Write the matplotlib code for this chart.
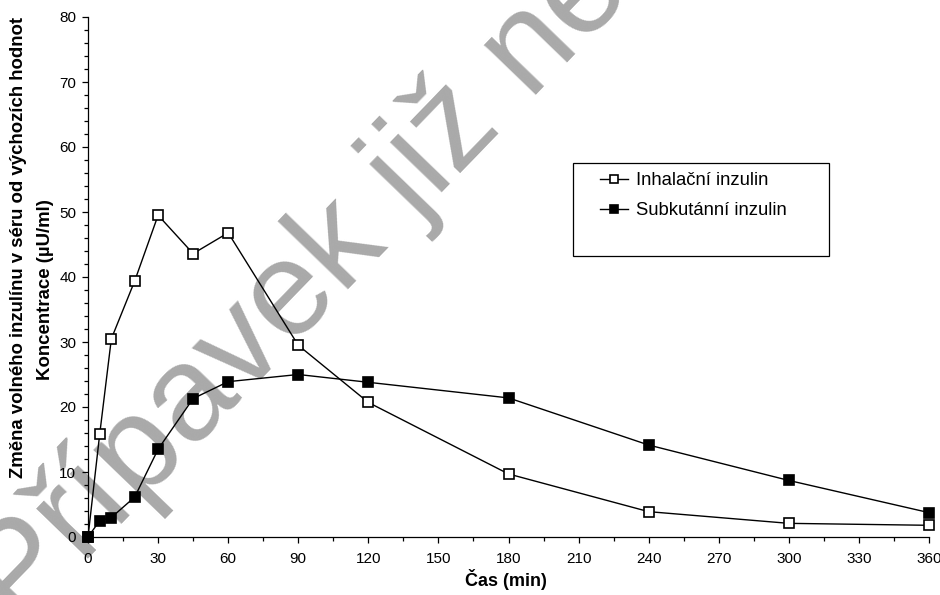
import matplotlib
matplotlib.use("Agg")
import matplotlib.pyplot as plt
from matplotlib.ticker import MultipleLocator
from matplotlib.patches import Rectangle

plt.rcParams['font.family'] = ['Liberation Sans', 'DejaVu Sans']

# Sampling times (min)
cas_min = [0, 5, 10, 20, 30, 45, 60, 90, 120, 180, 240, 300, 360]
# Change of free serum insulin from baseline (µU/ml)
inhalacni = [0, 15.8, 30.5, 39.4, 49.5, 43.6, 46.8, 29.5, 20.7, 9.7, 3.9, 2.1, 1.8]
subkutanni = [0, 2.5, 3.0, 6.15, 13.5, 21.3, 23.9, 25.0, 23.8, 21.4, 14.15, 8.7, 3.75]

serie_nazvy = ["Inhalační inzulin", "Subkutánní inzulin"]
osa_x = "Čas (min)"
osa_y_1 = "Změna volného inzulínu v séru od výchozích hodnot"
osa_y_2 = "Koncentrace (µU/ml)"
vodoznak = "Přípavek již není registrován"

W, H = 940, 595
fig = plt.figure(figsize=(W / 100, H / 100), dpi=100)
ax = fig.add_axes([88 / W, 1 - 537 / H, (929 - 88) / W, (537 - 17) / H])
ax.patch.set_alpha(0)

# watermark behind the plot
fig.text(20 / W, 1 - 630 / H, vodoznak, rotation=46, rotation_mode='anchor',
         ha='left', va='baseline', fontsize=97, color='#a9a9a9', zorder=-5)

ax.plot(cas_min, inhalacni, '-s', color='black', lw=1.0, ms=6.8,
        mfc='white', mec='black', mew=1.2, clip_on=False, zorder=3,
        label=serie_nazvy[0])
ax.plot(cas_min, subkutanni, '-s', color='black', lw=1.0, ms=6.8,
        mfc='black', mec='black', mew=1.2, clip_on=False, zorder=3,
        label=serie_nazvy[1])

ax.set_xlim(0, 360)
ax.set_ylim(0, 80)
ax.xaxis.set_major_locator(MultipleLocator(30))
ax.xaxis.set_minor_locator(MultipleLocator(15))
ax.yaxis.set_major_locator(MultipleLocator(10))
ax.yaxis.set_minor_locator(MultipleLocator(2))
ax.tick_params(which='major', direction='out', length=4.5, width=0.9,
               labelsize=11, pad=6)
ax.tick_params(which='minor', direction='out', length=3, width=0.9)
ax.tick_params(axis='y', which='major', pad=4)
for s in ('top', 'right'):
    ax.spines[s].set_visible(False)
for s in ('left', 'bottom'):
    ax.spines[s].set_linewidth(0.9)

fig.text(506 / W, 1 - 580 / H, osa_x, ha='center', va='center',
         fontsize=13, fontweight='bold')
fig.text(19 / W, 1 - 247.5 / H, osa_y_1, rotation=90, ha='center',
         va='center', fontsize=13.4, fontweight='bold')
fig.text(46 / W, 1 - 290 / H, osa_y_2, rotation=90, ha='center',
         va='center', fontsize=13.4, fontweight='bold')

# legend frame and entries
fig.patches.append(Rectangle((573 / W, 1 - 256 / H), (829 - 573) / W,
                             (256 - 163) / H, transform=fig.transFigure,
                             facecolor='white', edgecolor='black', lw=0.9,
                             zorder=4))
leg = fig.legend(loc='upper left', bbox_to_anchor=(600 / W, 1 - 172 / H),
                 frameon=False, fontsize=13.3, borderpad=0, borderaxespad=0,
                 handlelength=1.5, handletextpad=0.45, labelspacing=0.72,
                 markerscale=0.75)
leg.set_zorder(5)

fig.savefig("out.png", dpi=100)
